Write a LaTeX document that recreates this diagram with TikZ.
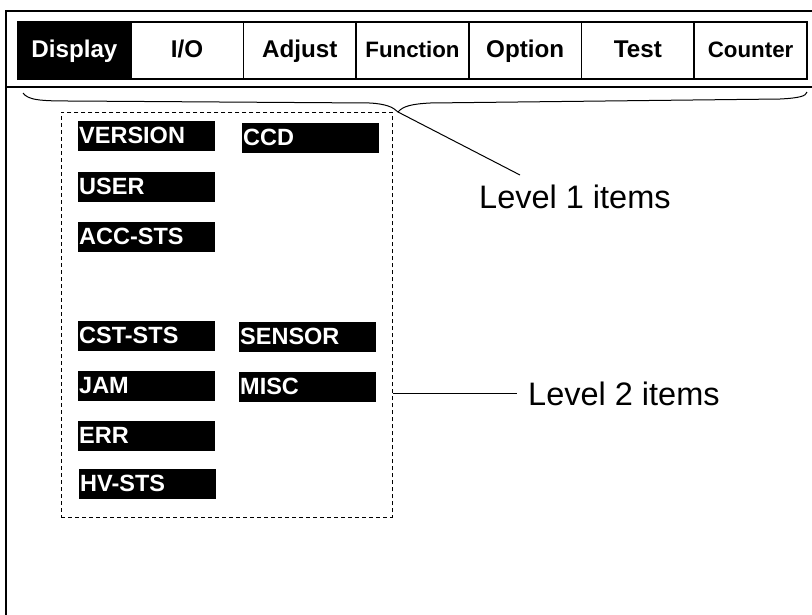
\documentclass[tikz,border=0pt]{standalone}
\usepackage{fontspec}
\setmainfont{Liberation Sans}
\usetikzlibrary{positioning}
\tikzset{
  tabcell/.style={draw, line width=1.8pt, minimum width=112.7pt, minimum height=57pt, inner sep=0pt, text height=17pt, text depth=4pt, font=\bfseries\fontsize{24.2}{24.2}\selectfont},
  itembox/.style={fill=black, text=white, anchor=north west, minimum height=30pt, text width=135pt, inner xsep=1pt, inner ysep=0pt, text height=17pt, text depth=2pt, align=left, font=\bfseries\fontsize{23.5}{23.5}\selectfont},
  levellabel/.style={inner sep=0pt, anchor=base west, font=\fontsize{32.5}{32.5}\selectfont}
}

\begin{document}
\begin{tikzpicture}[x=1pt,y=-1pt]
\useasboundingbox (0,0) rectangle (812,614);
\draw[line width=2pt] (6,640) -- (6,11) -- (830,11);
\draw[line width=2pt] (6,87) -- (830,87);
\node[tabcell, fill=black, text=white] (tab1) at (74.4,50.5) {Display};
\foreach \lbl [count=\i from 2] in {{I/O},Adjust,{\fontsize{22.3}{22.3}\selectfont Function},Option,Test,{\fontsize{22.3}{22.3}\selectfont Counter}}
  \node[tabcell] (tab\i) at ({18+112.71*(\i-0.5)},50.5) {\lbl};
\coordinate (tip) at (398,112);
\draw[line width=1pt] (23,93) .. controls (28,100) and (40,101) .. (70,101) -- (370,103) .. controls (386,104) and (393,107) .. (tip) .. controls (403,106) and (412,104) .. (430,103) -- (780,99) .. controls (800,98) and (806,96) .. (807,92);
\coordinate (l1end) at (520,175);
\draw[line width=1pt] (tip) -- (l1end);
\node[levellabel] (lvlone) at (479,208) {Level 1 items};
\node[draw, dash pattern=on 4pt off 3pt, line width=0.9pt, minimum width=331pt, minimum height=405pt, anchor=north west, inner sep=0pt] (grp) at (61,112) {};
\node[itembox] (version) at (78,121) {VERSION};
\node[itembox] (ccd) at (242,123) {CCD};
\node[itembox] (user) at (78,172) {USER};
\node[itembox] (accsts) at (78,222) {ACC-STS};
\node[itembox] (cststs) at (78,321) {CST-STS};
\node[itembox] (sensor) at (239,322) {SENSOR};
\node[itembox] (jam) at (78,371) {JAM};
\node[itembox] (misc) at (239,372) {MISC};
\node[itembox] (err) at (78,421) {ERR};
\node[itembox] (hvsts) at (79,469) {HV-STS};
\node[levellabel] (lvltwo) at (528,405) {Level 2 items};
\draw[line width=1pt] (lvltwo.west -| grp.east) -- ([xshift=-11pt]lvltwo.west);
\end{tikzpicture}
\end{document}
